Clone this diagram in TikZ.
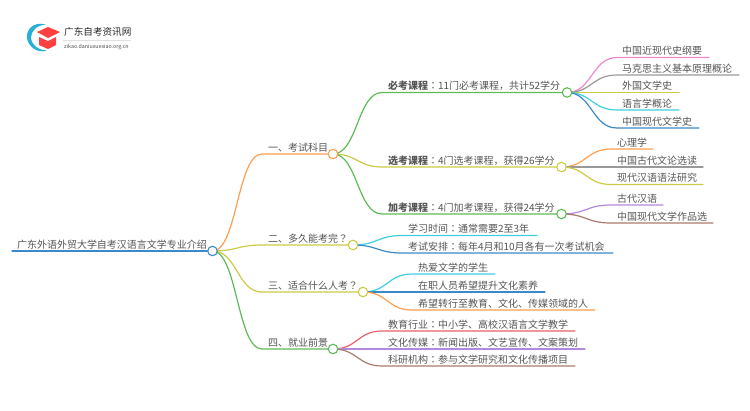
\documentclass[tikz,border=0pt]{standalone}
\usepackage{fontspec}
\setmainfont{Noto Sans CJK SC}
\newfontfamily\tcf{Noto Sans CJK TC}
\newcommand{\cln}{{\tcf ：}}
\newcommand{\qst}{{\tcf ？}}
\definecolor{txt}{HTML}{555555}
\definecolor{cblue}{HTML}{3A8AC9}
\definecolor{corange}{HTML}{FF9F4F}
\definecolor{colive}{HTML}{CBCB45}
\definecolor{cgreen}{HTML}{5DBB56}
\definecolor{cpink}{HTML}{EE88CC}
\definecolor{cgray}{HTML}{999999}
\definecolor{ccyan}{HTML}{3DD0E0}
\definecolor{cpurple}{HTML}{B389DB}
\definecolor{cbrown}{HTML}{A97B6D}
\definecolor{cred}{HTML}{E8606A}
\tikzset{
  lbl/.style={anchor=base west,inner sep=0pt,outer sep=0pt,text=txt,font=\fontsize{10}{12}\selectfont},
  hub/.style={circle,draw=#1,fill=white,line width=1.1pt,minimum size=9.5pt,inner sep=0pt},
  conn/.style={draw=#1,line width=1.2pt,line cap=round},
  pin/.style={minimum size=0pt,inner sep=0pt,outer sep=0pt},
}
% name, parent, colour, elbow x, y, end x, text x, text
\newcommand{\leafitem}[8]{%
  \coordinate (#1e) at (#4,#5);
  \coordinate (#1f) at (#6,#5);
  \path let \p1=(#2.center),\p2=(#1e),\n1={(\x1+\x2)/2} in
    coordinate (#1a) at (\n1,\y1) coordinate (#1b) at (\n1,\y2);
  \draw[conn=#3] (#2.center) .. controls (#1a) and (#1b) .. (#1e) -- (#1f);
  \node[lbl] (#1) at (#7,#5-3) {#8};
}
\usetikzlibrary{calc}
\begin{document}
\begin{tikzpicture}[x=1pt,y=-1pt]
\useasboundingbox (0,0) rectangle (750,410);
\node[pin] (root) at (212.5,251) {};
\node[pin] (h1) at (333,154) {};
\node[pin] (h2) at (353,245) {};
\node[pin] (h3) at (363,292) {};
\node[pin] (h4) at (333,349) {};
\node[pin] (s1) at (567,92.5) {};
\node[pin] (s2) at (561.5,167) {};
\node[pin] (s3) at (561.5,214) {};
% root line
\coordinate (rs) at (12,251);
\draw[conn=cblue] (rs) -- (root.center);
\node[lbl] (rt) at (17,248.5) {广东外语外贸大学自考汉语言文学专业介绍};
% level 1
\leafitem{a1}{root}{corange}{262}{154}{333}{268}{一、考试科目}
\leafitem{a2}{root}{colive}{262}{245}{353}{268}{二、多久能考完\qst}
\leafitem{a3}{root}{colive}{262}{292}{363}{268}{三、适合什么人考\qst}
\leafitem{a4}{root}{cgreen}{262}{349}{333}{268}{四、就业前景}
% level 2
\leafitem{b1}{h1}{cgreen}{382}{92.5}{567}{388}{\textbf{必考课程}\cln 11门必考课程，共计52学分}
\leafitem{b2}{h1}{colive}{382}{167}{561.5}{388}{\textbf{选考课程}\cln 4门选考课程，获得26学分}
\leafitem{b3}{h1}{cgreen}{382}{214}{561.5}{388}{\textbf{加考课程}\cln 4门加考课程，获得24学分}
% level 3
\leafitem{c1}{s1}{cpink}{617}{57.5}{709}{622}{中国近现代史纲要}
\leafitem{c2}{s1}{cgray}{617}{75}{739}{622}{马克思主义基本原理概论}
\leafitem{c3}{s1}{colive}{617}{92.5}{679}{622}{外国文学史}
\leafitem{c4}{s1}{ccyan}{617}{110}{679}{622}{语言学概论}
\leafitem{c5}{s1}{cblue}{617}{128}{699}{622}{中国现代文学史}
\leafitem{d1}{s2}{corange}{611}{149}{653}{617}{心理学}
\leafitem{d2}{s2}{cgray}{611}{167}{703}{617}{中国古代文论选读}
\leafitem{d3}{s2}{colive}{611}{184.5}{703}{617}{现代汉语语法研究}
\leafitem{e1}{s3}{cpurple}{611}{205}{663}{617}{古代汉语}
\leafitem{e2}{s3}{cbrown}{611}{223}{713}{617}{中国现代文学作品选}
\leafitem{f1}{h2}{ccyan}{402}{235.5}{537}{408}{学习时间\cln 通常需要2至3年}
\leafitem{f2}{h2}{cblue}{402}{253}{613}{408}{考试安排\cln 每年4月和10月各有一次考试机会}
\leafitem{g1}{h3}{ccyan}{412}{274}{495}{418}{热爱文学的学生}
\leafitem{g2}{h3}{cblue}{412}{292}{545}{418}{在职人员希望提升文化素养}
\leafitem{g3}{h3}{corange}{412}{310}{595}{418}{希望转行至教育、文化、传媒领域的人}
\leafitem{k1}{h4}{cred}{382}{331}{575}{388}{教育行业\cln 中小学、高校汉语言文学教学}
\leafitem{k2}{h4}{cpurple}{382}{349}{585}{388}{文化传媒\cln 新闻出版、文艺宣传、文案策划}
\leafitem{k3}{h4}{cbrown}{382}{366}{575}{388}{科研机构\cln 参与文学研究和文化传播项目}
% hub circles on top
\node[hub=cblue] (rooth) at (root) {};
\node[hub=corange] (h1h) at (h1) {};
\node[hub=colive] (h2h) at (h2) {};
\node[hub=colive] (h3h) at (h3) {};
\node[hub=cgreen] (h4h) at (h4) {};
\node[hub=cgreen] (s1h) at (s1) {};
\node[hub=colive] (s2h) at (s2) {};
\node[hub=cgreen] (s3h) at (s3) {};
% logo
\fill[cblue!70!cyan] (46,24.5) .. controls (32,21) and (26,31) .. (27,38) .. controls (28,46) and (37,54) .. (47,50.5) .. controls (38,50) and (31.5,45) .. (31,37.5) .. controls (31,31) and (37,25) .. (46,24.5) -- cycle;
\fill[red!75!white] (37,32) -- (48,27) -- (60,32) -- (48,38) -- cycle;
\fill[red!75!white] (39,37) -- (48,41) -- (56,37) -- (56,45) -- (48,49) -- (39,45) -- cycle;
\node[anchor=base west,inner sep=0pt,font=\fontsize{9.6}{11}\selectfont,text=black!85] (lt) at (64,35) {广东自考资讯网};
\coordinate (lla) at (63,40.5);
\coordinate (llb) at (131,40.5);
\draw[black!12,line width=.5pt] (lla) -- (llb);
\node[anchor=base west,inner sep=0pt,font=\fontsize{5.3}{6}\selectfont,text=black!70] (ls) at (64,48.5) {zikao.daniuxuexiao.org.cn};
\end{tikzpicture}
\end{document}
